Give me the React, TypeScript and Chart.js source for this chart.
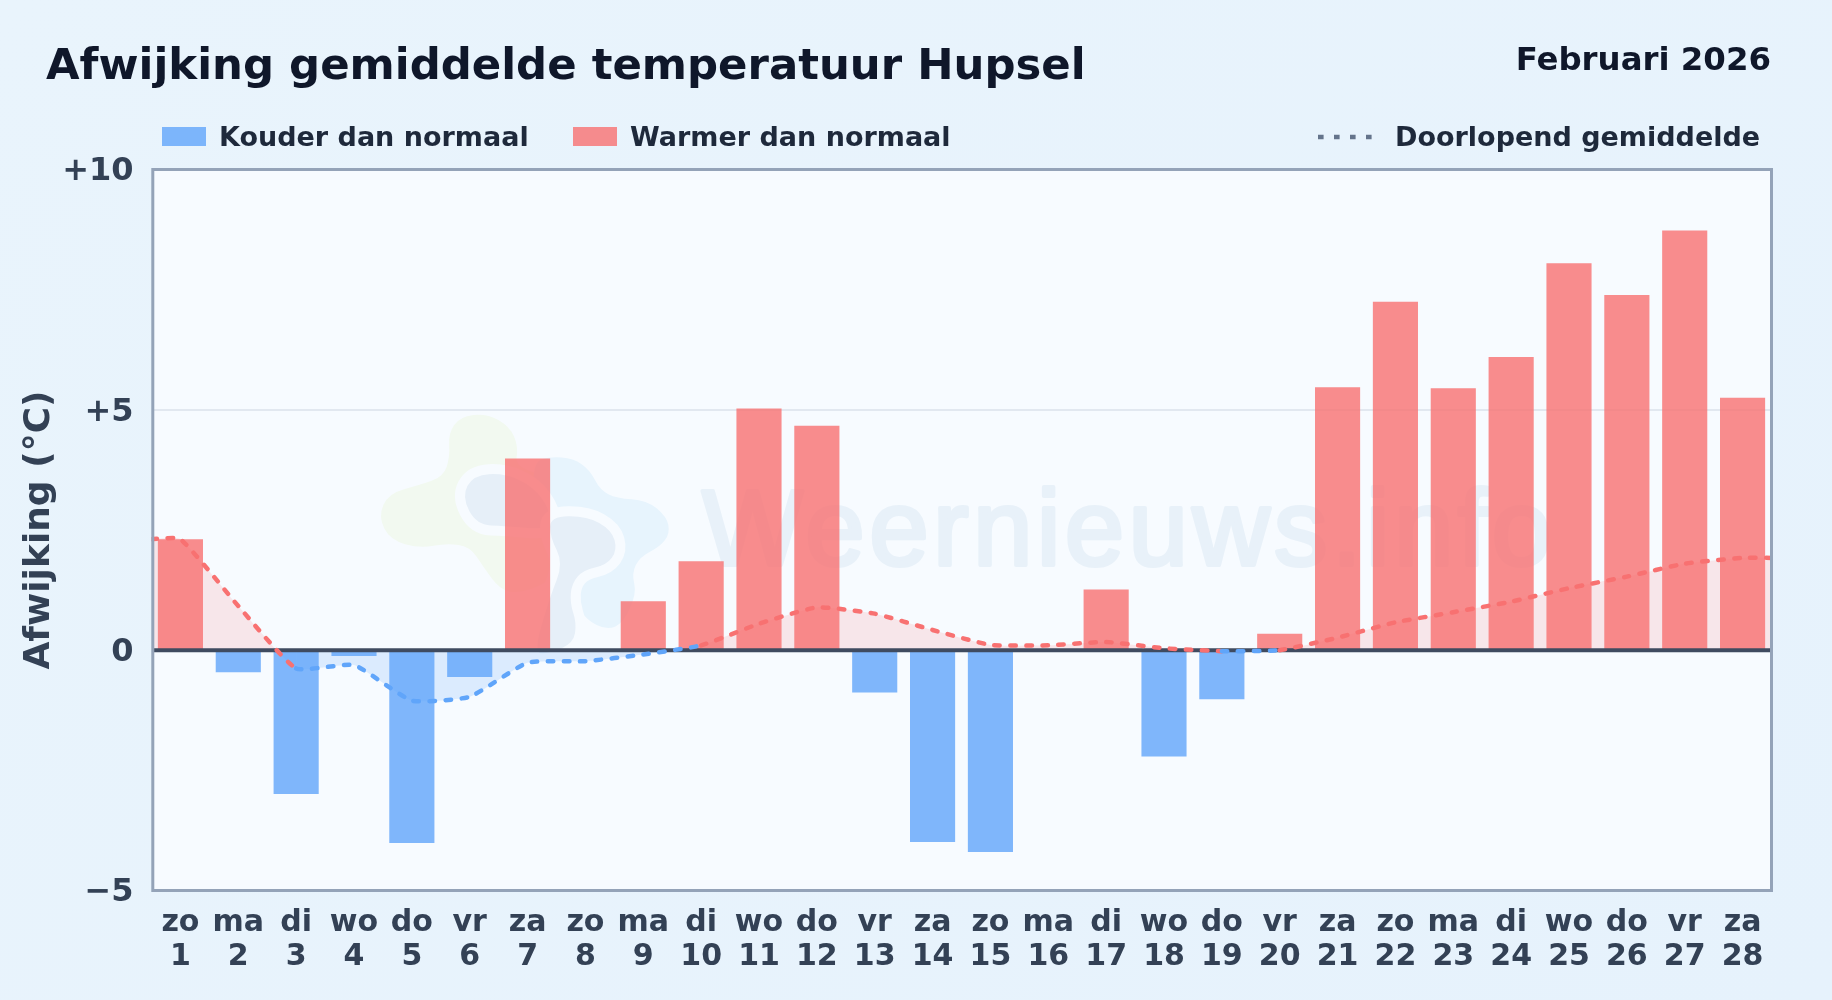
import React, { useEffect, useRef } from "react";
import { Chart, registerables } from "chart.js";

Chart.register(...registerables);

const weekdays = ["zo","ma","di","wo","do","vr","za","zo","ma","di","wo","do","vr","za","zo","ma","di","wo","do","vr","za","zo","ma","di","wo","do","vr","za"];
const dayNumbers = ["1","2","3","4","5","6","7","8","9","10","11","12","13","14","15","16","17","18","19","20","21","22","23","24","25","26","27","28"];
const coldValues = [null,-0.46,-2.99,-0.12,-4.01,-0.56,null,null,null,null,null,null,-0.88,-3.99,-4.2,null,null,-2.21,-1.02,null,null,null,null,null,null,null,null,null];
const warmValues = [2.31,null,null,null,null,null,3.99,null,1.02,1.85,5.03,4.67,null,null,null,null,1.26,null,null,0.34,5.47,7.25,5.45,6.1,8.05,7.39,8.73,5.25];
const runningDays = [0.5,1,2,3,4,5,6,7,8,9,10,11,12,13,14,15,16,17,18,19,20,21,22,23,24,25,26,27,28,28.5];
const runningMean = [2.31,2.31,0.92,-0.38,-0.31,-1.05,-0.97,-0.26,-0.23,-0.09,0.1,0.55,0.89,0.76,0.42,0.11,0.1,0.17,0.04,-0.02,0.0,0.26,0.58,0.79,1.01,1.29,1.53,1.8,1.92,1.92];
const yTicks = [10, 5, 0, -5];

const TITLE = "Afwijking gemiddelde temperatuur Hupsel";
const MONTH = "Februari 2026";
const COLD = "rgba(96,165,250,0.8)";
const WARM = "rgba(248,113,113,0.8)";
const FONT = '"DejaVu Sans", sans-serif';
const FRAME_INSET = 1.3;

const logoGreen = [[265,130],[300,80],[380,70],[450,110],[475,170],[465,230],[570,260],[610,500],[580,570],[480,610],[420,600],[370,530],[330,470],[260,460],[180,475],[90,450],[55,380],[85,310],[180,285],[250,260],[270,200]];
const logoBlue = [[520,215],[570,200],[640,205],[690,240],[720,300],[770,325],[860,330],[920,380],[930,430],[900,470],[840,500],[815,550],[830,610],[790,700],[740,720],[680,690],[650,640],[570,520],[520,350]];
const logoCoreLeft = [[305,320],[340,255],[435,250],[520,290],[570,360],[570,420],[435,408],[350,405]];
const logoCoreRight = [[570,380],[680,378],[755,420],[772,480],[740,525],[670,540],[635,580],[630,640],[650,700],[640,760],[570,790],[520,790],[570,620],[610,520],[570,440]];

const yLabel = (v: number) => (v > 0 ? "+" + v : v < 0 ? "\u2212" + Math.abs(v) : "0");

const blob = (ctx: CanvasRenderingContext2D, shape: number[][], fill: string, ring?: string) => {
  const pts = shape.map(([x, y]) => [360 + x / 3, 390 + y / 3]);
  ctx.beginPath();
  const n = pts.length;
  ctx.moveTo((pts[n - 1][0] + pts[0][0]) / 2, (pts[n - 1][1] + pts[0][1]) / 2);
  for (let i = 0; i < n; i++) {
    const next = pts[(i + 1) % n];
    ctx.quadraticCurveTo(pts[i][0], pts[i][1], (pts[i][0] + next[0]) / 2, (pts[i][1] + next[1]) / 2);
  }
  ctx.closePath();
  if (ring) {
    ctx.strokeStyle = ring;
    ctx.lineWidth = 20;
    ctx.lineJoin = "round";
    ctx.stroke();
  }
  ctx.fillStyle = fill;
  ctx.fill();
};

const backdrop = {
  id: "backdrop",
  beforeDraw(chart: any) {
    const { ctx, chartArea: a, scales } = chart;
    ctx.save();
    ctx.fillStyle = "#f7fbff";
    ctx.fillRect(a.left + FRAME_INSET, a.top, a.width - FRAME_INSET, a.height);
    ctx.beginPath();
    ctx.rect(a.left, a.top, a.width, a.height);
    ctx.clip();
    // faint watermark behind the data
    blob(ctx, logoGreen, "#f2f9f0");
    blob(ctx, logoBlue, "#e7f4fd");
    blob(ctx, logoCoreLeft, "#e6eff8", "#f7fbff");
    blob(ctx, logoCoreRight, "#e6eff8", "#f7fbff");
    ctx.fillStyle = "#e8f1f9";
    ctx.strokeStyle = "#e8f1f9";
    ctx.lineWidth = 4;
    ctx.font = "107px 'Liberation Sans', sans-serif";
    (ctx as any).letterSpacing = "4.3px";
    ctx.textBaseline = "alphabetic";
    ctx.textAlign = "left";
    ctx.fillText("Weernieuws.info", 702, 565);
    ctx.strokeText("Weernieuws.info", 702, 565);
    (ctx as any).letterSpacing = "0px";
    ctx.restore();
    // y tick texts sit a little lower than the canvas "middle" baseline
    if (!chart.$labelsNudged) {
      scales.y.getLabelItems(a).forEach((item: any) => { item.options.translation[1] += 2.5; });
      chart.$labelsNudged = true;
    }
  },
  afterDatasetDraw(chart: any, args: any) {
    if (args.index !== 1) return;
    const { ctx, chartArea: a, scales } = chart;
    const y = scales.y.getPixelForValue(0);
    ctx.save();
    ctx.strokeStyle = "#3f4b60";
    ctx.lineWidth = 4;
    ctx.beginPath();
    ctx.moveTo(a.left + FRAME_INSET, y);
    ctx.lineTo(a.right, y);
    ctx.stroke();
    ctx.restore();
  },
  afterDraw(chart: any) {
    const { ctx, chartArea: a } = chart;
    ctx.save();
    ctx.strokeStyle = "#94a3b8";
    ctx.lineWidth = 3;
    ctx.strokeRect(a.left + FRAME_INSET, a.top, a.width - FRAME_INSET, a.height);
    ctx.restore();
  },
};

export default function App() {
  const ref = useRef<HTMLCanvasElement>(null);
  useEffect(() => {
    document.body.style.margin = "0";
    const chart = new Chart(ref.current as HTMLCanvasElement, {
      type: "bar",
      data: {
        labels: weekdays.map((d, i) => [d, dayNumbers[i]]),
        datasets: [
          { label: "Kouder dan normaal", data: coldValues, backgroundColor: COLD, order: 3, grouped: false, barPercentage: 0.78, categoryPercentage: 1 },
          { label: "Warmer dan normaal", data: warmValues, backgroundColor: WARM, order: 2, grouped: false, barPercentage: 0.78, categoryPercentage: 1 },
          {
            type: "line",
            label: "Doorlopend gemiddelde",
            data: runningDays.map((x, i) => ({ x, y: runningMean[i] })),
            xAxisID: "xLine",
            order: 1,
            pointRadius: 0,
            borderWidth: 4.5,
            borderDash: [5.5, 10.5],
            borderCapStyle: "round",
            tension: 0.15,
            borderColor: "#f87171",
            segment: { borderColor: (c: any) => (c.p0.parsed.y < 0 ? "#60a5fa" : "#f87171") },
            fill: { target: { value: 0 }, above: "rgba(248,113,113,0.15)", below: "rgba(96,165,250,0.18)" },
          } as any,
        ],
      },
      options: {
        responsive: false,
        animation: false,
        devicePixelRatio: 1,
        layout: { padding: { left: 0, right: 60.5, top: 169.5, bottom: 0 } },
        plugins: { legend: { display: false }, title: { display: false }, tooltip: { enabled: false }, filler: { drawTime: "beforeDatasetsDraw" } as any },
        scales: {
          x: {
            afterFit: (s: any) => { s.height = 109.5; },
            grid: { display: false, drawTicks: false },
            border: { display: false },
            ticks: { color: "#334155", font: { family: FONT, weight: "bold", size: 30, lineHeight: 1.13 }, maxRotation: 0, autoSkip: false, padding: 15.5 },
          },
          xLine: { type: "linear", display: false, min: 0.5, max: 28.5, offset: false, grid: { offset: false } },
          y: {
            min: -5,
            max: 10,
            afterFit: (s: any) => { s.width = 151.5; },
            afterBuildTicks: (s: any) => { s.ticks = yTicks.map((value) => ({ value })); },
            grid: { color: (c: any) => (c.tick.value === 5 ? "#e2e8f0" : "transparent"), lineWidth: 2, drawTicks: false },
            border: { display: false },
            ticks: { color: "#334155", font: { family: FONT, weight: "bold", size: 32 }, padding: 18, callback: (v: any) => yLabel(Number(v)) },
            title: { display: true, text: "Afwijking (\u00b0C)", color: "#334155", font: { family: FONT, weight: "bold", size: 36 }, padding: { top: 18, bottom: 0 } },
          },
        },
      } as any,
      plugins: [backdrop],
    });
    return () => chart.destroy();
  }, []);

  const legendText: React.CSSProperties = { position: "absolute", top: 120, fontSize: 27, fontWeight: "bold", color: "#1e293b", whiteSpace: "nowrap", lineHeight: "34px" };
  const swatch = (left: number, color: string): React.CSSProperties => ({ position: "absolute", left, top: 127, width: 44, height: 19, background: color });

  return (
    <div style={{ position: "absolute", left: 0, top: 0, width: 1832, height: 1000, overflow: "hidden", fontFamily: FONT, background: "linear-gradient(135deg,#e9f4fc,#e6f2fc)" }}>
      <canvas ref={ref} width={1832} height={1000} style={{ position: "absolute", left: 0, top: 0, display: "block" }} />
      <div style={{ position: "absolute", left: 46, top: 37, fontSize: 43.4, fontWeight: "bold", color: "#0f172a", whiteSpace: "nowrap", lineHeight: "54px" }}>{TITLE}</div>
      <div style={{ position: "absolute", right: 61, top: 40, fontSize: 32.4, fontWeight: "bold", color: "#0f172a", whiteSpace: "nowrap", lineHeight: "38px" }}>{MONTH}</div>
      <div style={swatch(162, COLD)} />
      <div style={{ ...legendText, left: 219 }}>Kouder dan normaal</div>
      <div style={swatch(573, WARM)} />
      <div style={{ ...legendText, left: 630 }}>Warmer dan normaal</div>
      <svg style={{ position: "absolute", left: 1316, top: 128, width: 60, height: 18 }}>
        <line x1="2" y1="9" x2="58" y2="9" stroke="#64748b" strokeWidth="4.6" strokeDasharray="5.6 10.4" />
      </svg>
      <div style={{ ...legendText, left: 1395 }}>Doorlopend gemiddelde</div>
    </div>
  );
}
